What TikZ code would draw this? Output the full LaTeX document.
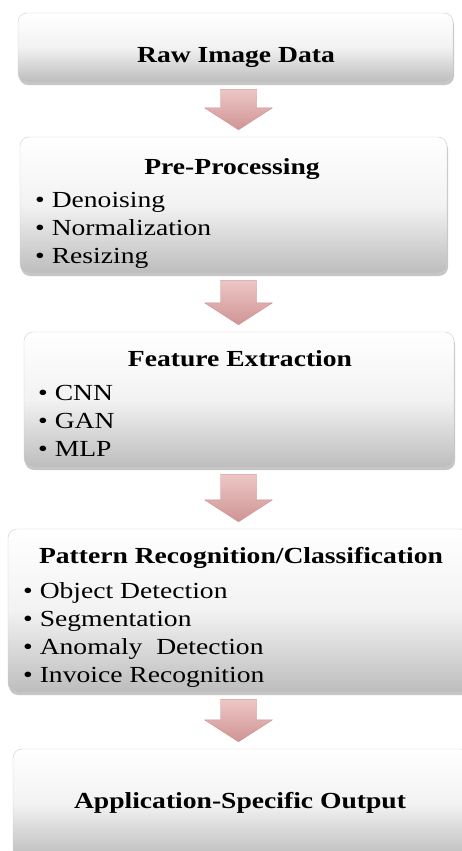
\documentclass[tikz,border=0pt]{standalone}
\usepackage{fontspec}
\setmainfont{Liberation Serif}[FakeStretch=1.2]
\usetikzlibrary{calc,shadows}

\definecolor{boxedge}{HTML}{CDCDCD}
\definecolor{boxshade}{HTML}{BDBDBD}
\definecolor{arrowlight}{HTML}{EDC6C6}
\definecolor{arrowdark}{HTML}{D09494}
\definecolor{arrowedge}{HTML}{C99292}

\tikzset{
  stagebox/.style={draw=boxedge, rounded corners=9pt, top color=white, bottom color=boxshade,
    middle color=white!95!black, inner sep=0pt,
    drop shadow={shadow xshift=1pt, shadow yshift=-3pt, opacity=.45}},
  stagetitle/.style={font=\fontsize{23}{28}\selectfont\bfseries, inner sep=0pt, anchor=base},
  stageitem/.style={font=\fontsize{23}{28}\selectfont, inner sep=0pt, anchor=base west},
  flowarrow/.style={draw=arrowedge, line width=0.4pt, top color=arrowlight, bottom color=arrowdark, line join=round}
}

% fat down arrow between two stages
\newcommand{\stagearrow}[2]{%
  \path (#1.south -| axis) ++(0,-7) coordinate (t);
  \path (#2.north -| axis) ++(0,7) coordinate (h);
  \draw[flowarrow] ($(t)+(-18,0)$) -- ($(t)+(18,0)$) -- ($(h)+(18,22)$) -- ($(h)+(34,22)$)
    -- (h) -- ($(h)+(-34,22)$) -- ($(h)+(-18,22)$) -- cycle;
}

\begin{document}
\begin{tikzpicture}[x=1pt,y=1pt]
\useasboundingbox (0,0) rectangle (461,-851);
\coordinate (axis) at (238.5,0);

% stages
\node[stagebox, minimum width=435pt, minimum height=69pt] (raw) at (235.5,-47.5) {};
\node[stagebox, minimum width=427pt, minimum height=136pt] (pre) at (233.5,-205) {};
\node[stagebox, minimum width=430pt, minimum height=135pt] (feat) at (239,-399.5) {};
\node[stagebox, minimum width=462pt, minimum height=163pt] (pat) at (239,-610.5) {};
\node[stagebox, minimum width=457pt, minimum height=109pt] (out) at (241.5,-803.5) {};

% titles
\node[stagetitle] (rawt) at (236,-63) {Raw Image Data};
\node[stagetitle] (pret) at (232,-174) {Pre-Processing};
\node[stagetitle] (featt) at (240,-366) {Feature Extraction};
\node[stagetitle] (patt) at (241,-563) {Pattern Recognition/Classification};
\node[stagetitle] (outt) at (240,-808) {Application-Specific Output};

% items
\node[stageitem] (pre1) at (35,-207) {\textbullet\ Denoising};
\node[stageitem] (pre2) at (35,-235) {\textbullet\ Normalization};
\node[stageitem] (pre3) at (35,-263) {\textbullet\ Resizing};

\node[stageitem] (feat1) at (38,-400) {\textbullet\ CNN};
\node[stageitem] (feat2) at (38,-428) {\textbullet\ GAN};
\node[stageitem] (feat3) at (38,-456) {\textbullet\ MLP};

\node[stageitem] (pat1) at (23,-598) {\textbullet\ Object Detection};
\node[stageitem] (pat2) at (23,-626) {\textbullet\ Segmentation};
\node[stageitem] (pat3) at (23,-654) {\textbullet\ Anomaly~~Detection};
\node[stageitem] (pat4) at (23,-682) {\textbullet\ Invoice Recognition};

% arrows
\stagearrow{raw}{pre}
\stagearrow{pre}{feat}
\stagearrow{feat}{pat}
\stagearrow{pat}{out}

\end{tikzpicture}
\end{document}
